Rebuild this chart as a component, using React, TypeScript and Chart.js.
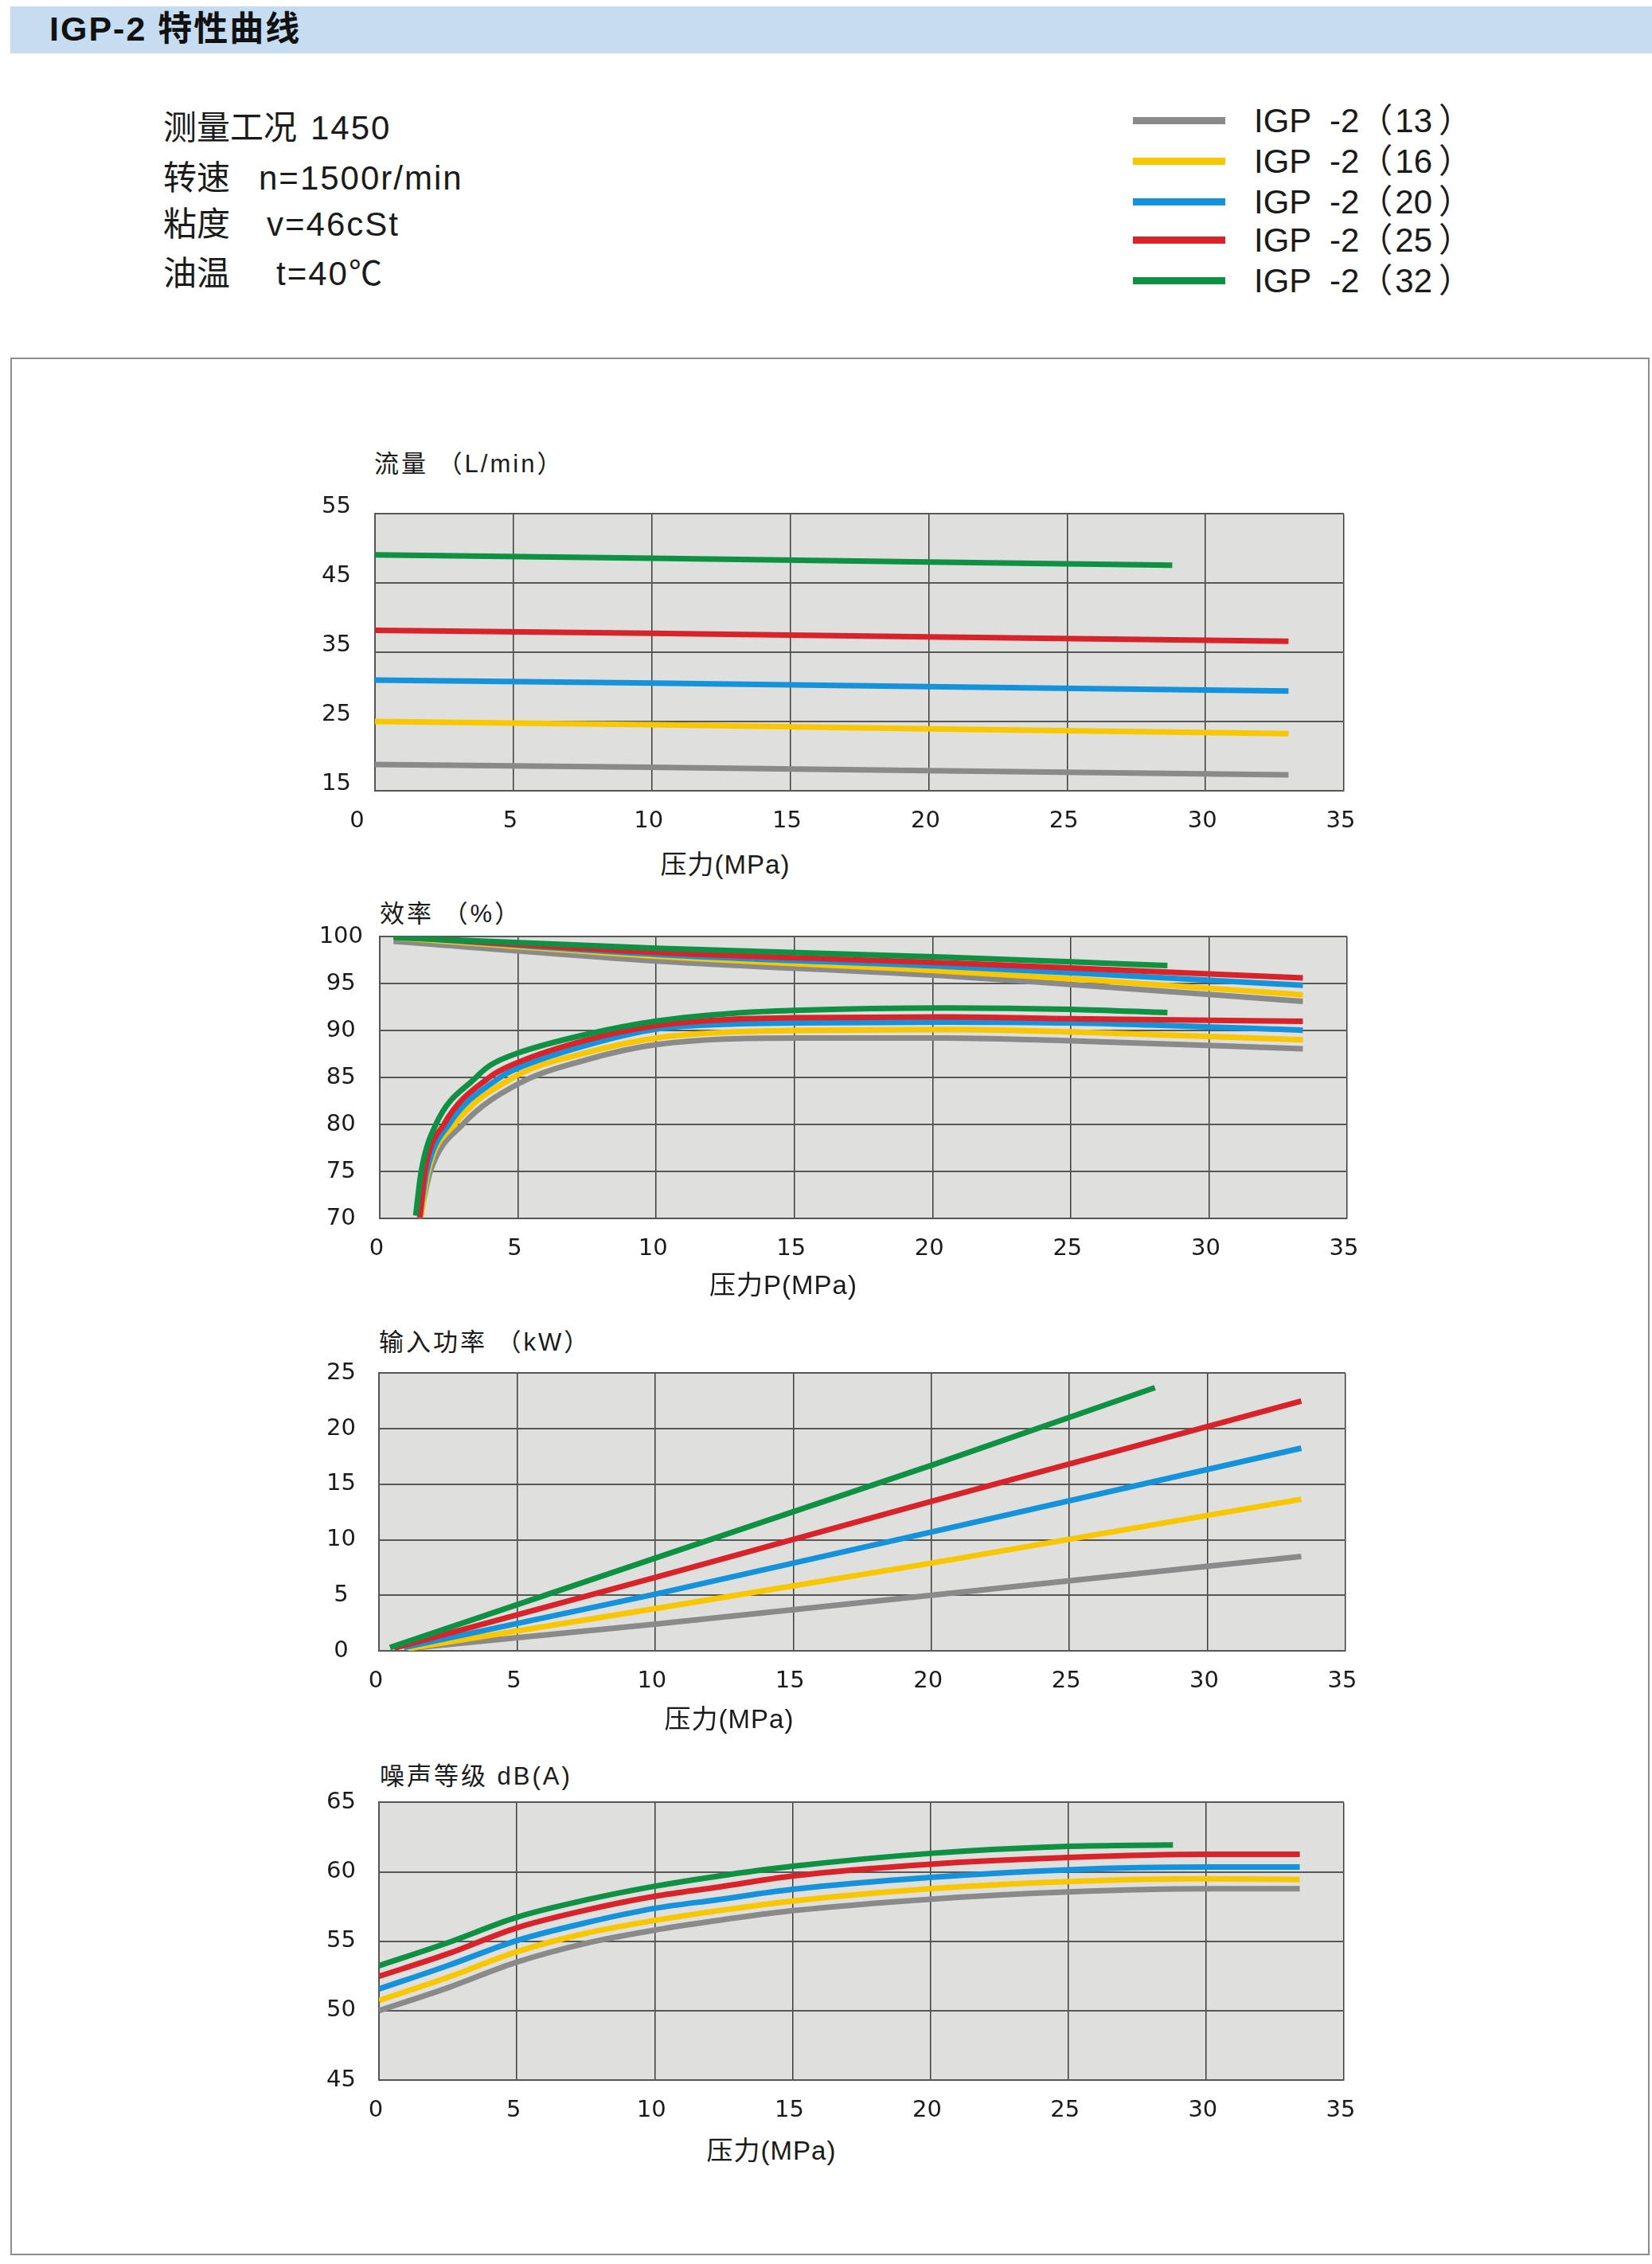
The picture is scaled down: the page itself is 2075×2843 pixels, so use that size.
import { useEffect, useRef } from 'react';
import { Chart, registerables } from 'chart.js';
import type { ChartDataset } from 'chart.js';

Chart.register(...registerables);

// 型号与颜色
const models = ['13', '16', '20', '25', '32'];
const colors = ['#8a8a8a', '#f8c700', '#1592dc', '#d8232a', '#0e9143'];

// 流量 (L/min)
const flowP = [0, 10, 20, 33];
const flowP32 = [0, 10, 20, 28.8];
const flow13 = [18.8, 18.4, 17.9, 17.3];
const flow16 = [25.0, 24.55, 23.95, 23.25];
const flow20 = [31.0, 30.55, 30.05, 29.4];
const flow25 = [38.2, 37.75, 37.25, 36.6];
const flow32 = [49.1, 48.6, 48.05, 47.6];

// 容积效率 (%)
const volP = [0.5, 10, 20.5, 25, 33.4];
const volP32 = [0.5, 10, 20.5, 25, 28.5];
const vol13 = [99.5, 97.4, 95.8, 94.9, 93.1];
const vol16 = [99.9, 97.9, 96.3, 95.5, 93.8];
const vol20 = [100, 98.1, 96.8, 96.15, 94.8];
const vol25 = [100, 98.3, 97.2, 96.65, 95.6];
const vol32 = [99.9, 98.75, 97.8, 97.3, 96.9];

// 总效率 (%)
const totP13 = [1.45, 1.83, 3.0, 5, 7.5, 10, 15, 20.5, 25, 33.4];
const tot13 = [70.0, 75, 80, 84.3, 86.9, 88.5, 89.2, 89.2, 88.9, 88.05];
const totP16 = [1.5, 1.75, 2.7, 4.83, 7.5, 10, 12.85, 15, 20.5, 25, 33.4];
const tot16 = [70.3, 75, 80, 85, 87.65, 89.2, 89.85, 90.0, 90.1, 89.85, 89.0];
const totP20 = [1.45, 1.7, 2.5, 4.35, 5, 7.5, 10, 12.85, 15, 20.5, 25, 33.4];
const tot20 = [70.2, 75, 80, 85, 86.0, 88.45, 90.15, 90.7, 90.8, 90.9, 90.8, 90.03];
const totP25 = [1.45, 1.63, 2.32, 3.96, 5, 7.5, 10, 12.85, 15, 20.5, 25, 33.4];
const tot25 = [70.1, 75, 80, 85, 86.6, 89.0, 90.5, 91.2, 91.35, 91.45, 91.25, 90.97];
const totP32 = [1.3, 1.5, 2.03, 3.48, 4, 5, 7.5, 10, 12.85, 15, 20.5, 25, 28.5];
const tot32 = [70.3, 75, 80, 85, 86.3, 87.6, 89.6, 91.0, 91.85, 92.15, 92.4, 92.25, 91.9];

// 输入功率 (kW)
const powP13 = [1.2, 10, 20, 33.4];
const powP16 = [1.05, 10, 20, 33.4];
const powP20 = [0.9, 10, 20, 33.4];
const powP25 = [0.55, 10, 20, 33.4];
const powP32 = [0.4, 10, 20, 28.1];
const pow13 = [0.25, 2.4, 5.0, 8.5];
const pow16 = [0.2, 3.8, 7.9, 13.65];
const pow20 = [0.3, 5.1, 10.7, 18.25];
const pow25 = [0.25, 6.6, 13.45, 22.5];
const pow32 = [0.3, 8.35, 16.7, 23.7];

// 噪声等级 dB(A)
const noiseP = [0, 2.5, 5, 7.5, 10, 12.3, 15, 20, 25, 30, 33.4];
const noiseP32 = [0, 2.5, 5, 7.5, 10, 12.3, 15, 20, 25, 28.8];
const noise13 = [50.0, 51.65, 53.5, 54.85, 55.8, 56.5, 57.2, 58.03, 58.55, 58.78, 58.78];
const noise16 = [50.73, 52.4, 54.24, 55.57, 56.5, 57.2, 57.9, 58.78, 59.3, 59.5, 59.45];
const noise20 = [51.56, 53.25, 55.05, 56.33, 57.37, 58.0, 58.74, 59.6, 60.15, 60.34, 60.34];
const noise25 = [52.47, 54.1, 55.97, 57.24, 58.24, 58.9, 59.7, 60.55, 61.03, 61.26, 61.26];
const noise32 = [53.24, 54.9, 56.73, 57.97, 58.96, 59.69, 60.4, 61.33, 61.84, 61.94];

const AXIS_W = 110;
const AXIS_H = 70;
const PAD_T = 40;
const PAD_R = 50;
const TICK_FONT = { family: 'DejaVu Sans', size: 29 };
const CJK = "'Liberation Sans', 'Noto Sans CJK SC', sans-serif";

const plotBg = {
  id: 'plotBg',
  beforeDraw(chart: Chart) {
    const { ctx, chartArea: a } = chart;
    ctx.save();
    ctx.fillStyle = '#dfdfdd';
    ctx.fillRect(a.left, a.top, a.width, a.height);
    ctx.restore();
  },
};

function pts(xs: number[], ys: number[]) {
  return xs.map((x, i) => ({ x, y: ys[i] }));
}

function lines(series: [number[], number[]][], smooth: boolean): ChartDataset<'line'>[] {
  return series.map(([xs, ys], i) => ({
    label: 'IGP -2（' + models[i] + '）',
    data: pts(xs, ys),
    borderColor: colors[i],
    borderWidth: 7,
    pointRadius: 0,
    fill: false,
    tension: smooth ? 0.4 : 0,
    cubicInterpolationMode: smooth ? 'monotone' : 'default',
    order: 4 - i,
  }));
}

interface PlotProps {
  left: number;
  top: number;
  width: number;
  height: number;
  yMin: number;
  yMax: number;
  yStep: number;
  yPad: number;
  yLabelOffset?: number;
  zeroPad?: number;
  datasets: ChartDataset<'line'>[];
}

function Plot({ left, top, width, height, yMin, yMax, yStep, yPad, yLabelOffset = 0, zeroPad = 0, datasets }: PlotProps) {
  const canvasRef = useRef<HTMLCanvasElement>(null);

  useEffect(() => {
    const canvas = canvasRef.current;
    if (!canvas) return;
    const chart = new Chart(canvas, {
      type: 'line',
      data: { datasets },
      options: {
        animation: false,
        responsive: true,
        maintainAspectRatio: false,
        layout: { padding: { top: PAD_T, right: PAD_R, left: 0, bottom: 0 } },
        plugins: { legend: { display: false }, tooltip: { enabled: false } },
        scales: {
          x: {
            type: 'linear',
            min: 0,
            max: 35,
            ticks: {
              stepSize: 5,
              padding: 21,
              labelOffset: -4,
              font: TICK_FONT,
              color: '#1a1a1a',
              maxRotation: 0,
              autoSkip: false,
              // the 0 label sits a little left of the axis in the original
              callback: (v) => (v === 0 ? '0' + ' '.repeat(zeroPad) : String(v)),
            },
            grid: { color: '#3c3c3c', lineWidth: 1.5, drawTicks: false },
            border: { color: '#555', width: 2 },
            afterFit: (s) => { s.height = AXIS_H; },
          },
          y: {
            type: 'linear',
            min: yMin,
            max: yMax,
            ticks: { stepSize: yStep, padding: yPad, crossAlign: 'center', labelOffset: yLabelOffset, font: TICK_FONT, color: '#1a1a1a' },
            grid: { color: '#575757', lineWidth: 2, drawTicks: false },
            border: { color: '#555', width: 2 },
            afterFit: (s) => { s.width = AXIS_W; },
          },
        },
      },
      plugins: [plotBg],
    });
    return () => chart.destroy();
    // eslint-disable-next-line react-hooks/exhaustive-deps
  }, []);

  return (
    <div
      style={{
        position: 'absolute',
        left: left - AXIS_W,
        top: top - PAD_T,
        width: AXIS_W + width + PAD_R,
        height: PAD_T + height + AXIS_H,
      }}
    >
      <canvas ref={canvasRef} />
    </div>
  );
}

function AxisTitle({ left, cy, text }: { left: number; cy: number; text: string }) {
  return (
    <div style={{ position: 'absolute', left, top: cy - 15.5, fontSize: 31, lineHeight: '31px', letterSpacing: 3, whiteSpace: 'pre', fontFamily: CJK, color: '#1a1a1a' }}>
      {text}
    </div>
  );
}

function XTitle({ cx, cy, text }: { cx: number; cy: number; text: string }) {
  return (
    <div style={{ position: 'absolute', left: cx - 200, width: 400, textAlign: 'center', top: cy - 16.5, fontSize: 33, lineHeight: '33px', letterSpacing: 1, whiteSpace: 'pre', fontFamily: CJK, color: '#1a1a1a' }}>
      {text}
    </div>
  );
}

const infoLabels = ['测量工况', '转速', '粘度', '油温'];
const infoValues = ['1450', 'n=1500r/min', 'v=46cSt', 't=40℃'];
const infoValueX = [390, 325, 335, 347];
const infoBaseline = [177, 240, 298, 360];
const legendY = [151, 202, 253, 301, 352];

export default function App() {
  const flowSeries: [number[], number[]][] = [
    [flowP, flow13], [flowP, flow16], [flowP, flow20], [flowP, flow25], [flowP32, flow32],
  ];
  const volSeries: [number[], number[]][] = [
    [volP, vol13], [volP, vol16], [volP, vol20], [volP, vol25], [volP32, vol32],
  ];
  const totSeries: [number[], number[]][] = [
    [totP13, tot13], [totP16, tot16], [totP20, tot20], [totP25, tot25], [totP32, tot32],
  ];
  const powSeries: [number[], number[]][] = [
    [powP13, pow13], [powP16, pow16], [powP20, pow20], [powP25, pow25], [powP32, pow32],
  ];
  const noiseSeries: [number[], number[]][] = [
    [noiseP, noise13], [noiseP, noise16], [noiseP, noise20], [noiseP, noise25], [noiseP32, noise32],
  ];

  return (
    <div style={{ position: 'absolute', left: 0, top: 0, width: 2075, height: 2843, background: '#fff', fontFamily: CJK, color: '#1a1a1a' }}>
      <div style={{ position: 'absolute', left: 13, top: 8, width: 2062, height: 59, background: '#c6ddf1' }} />
      <div style={{ position: 'absolute', left: 62, top: 15, fontSize: 43, lineHeight: '43px', fontWeight: 'bold', letterSpacing: 2, whiteSpace: 'pre', color: '#111' }}>
        IGP-2 特性曲线
      </div>

      {infoLabels.map((lab, i) => (
        <div key={lab} style={{ position: 'absolute', left: 205, top: infoBaseline[i] - 37, fontSize: 42, lineHeight: '42px', whiteSpace: 'pre' }}>
          <span style={{ display: 'inline-block', width: infoValueX[i] - 205 }}>{lab}</span>
          <span style={{ letterSpacing: 2 }}>{infoValues[i]}</span>
        </div>
      ))}

      {models.map((m, i) => (
        <div key={m}>
          <div style={{ position: 'absolute', left: 1423, top: legendY[i] - 4.5, width: 116, height: 9, background: colors[i] }} />
          <div style={{ position: 'absolute', left: 1575, top: legendY[i] + 2 - 22, fontSize: 42, lineHeight: '42px', whiteSpace: 'pre' }}>
            {'IGP  -2（'}
            <span style={{ margin: '0 8px 0 3px' }}>{m}</span>
            {'）'}
          </div>
        </div>
      ))}

      <div style={{ position: 'absolute', left: 13, top: 449, width: 2055, height: 2379, border: '2px solid #8c8c8c' }} />

      <AxisTitle left={470} cy={582} text="流量 （L/min）" />
      <Plot left={471} top={638} width={1217} height={355} yMin={15} yMax={55} yStep={10} yPad={30} yLabelOffset={-9} zeroPad={4} datasets={lines(flowSeries, false)} />
      <XTitle cx={911} cy={1085} text="压力(MPa)" />

      <AxisTitle left={477} cy={1147} text="效率 （%）" />
      <Plot left={477} top={1176} width={1215} height={354} yMin={70} yMax={100} yStep={5} yPad={21} datasets={[...lines(volSeries, true), ...lines(totSeries, true)]} />
      <XTitle cx={984} cy={1613} text="压力P(MPa)" />

      <AxisTitle left={476} cy={1685} text="输入功率 （kW）" />
      <Plot left={476} top={1718} width={1214} height={355} yMin={0} yMax={25} yStep={5} yPad={29} datasets={lines(powSeries, false)} />
      <XTitle cx={916} cy={2158} text="压力(MPa)" />

      <AxisTitle left={477} cy={2230} text="噪声等级 dB(A)" />
      <Plot left={476} top={2257} width={1212} height={355} yMin={45} yMax={65} yStep={5} yPad={29} datasets={lines(noiseSeries, true)} />
      <XTitle cx={969} cy={2700} text="压力(MPa)" />
    </div>
  );
}
